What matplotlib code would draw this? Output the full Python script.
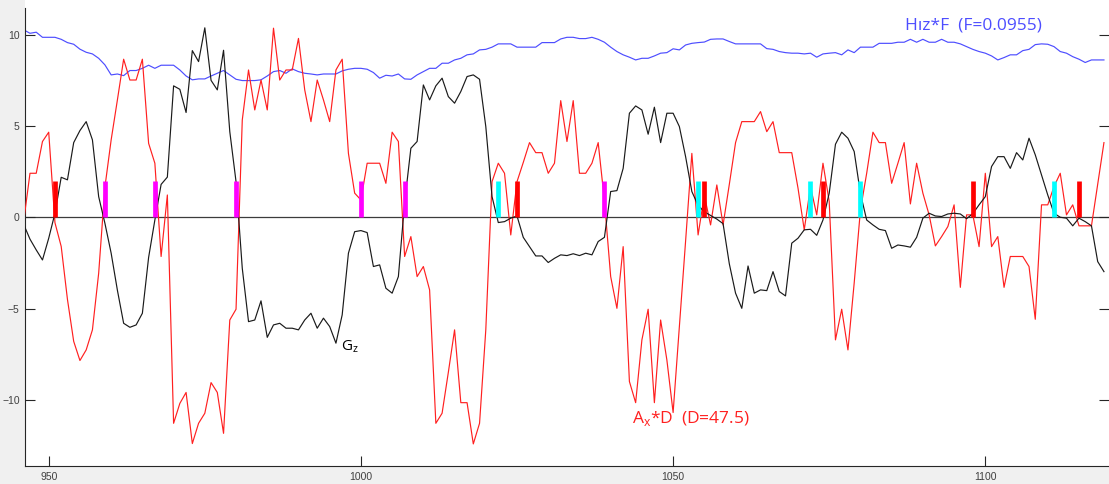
import numpy as np
import matplotlib
matplotlib.use("Agg")
import matplotlib.pyplot as plt

# ---------------- data (one sample per integer x, starting at X_START) ----------------
X_START = 946

ax_d = [
    -0.2, 2.41, 2.41, 4.15, 4.66, -0.3, -1.6, -4.5, -6.8, -7.85,
    -7.27, -6.17, -3.07, 1.65, 4.24, 6.43, 8.66, 7.52, 7.52, 8.66,
    4.05, 2.96, -2.15, 1.22, -11.29, -10.2, -9.6, -12.4, -11.29, -10.74,
    -9.06, -9.6, -11.84, -5.63, -5.04, 5.33, 8.07, 5.88, 7.52, 5.88,
    10.36, 7.52, 8.07, 8.07, 9.8, 6.98, 5.24, 7.52, 6.43, 5.24,
    8.07, 8.66, 3.5, 1.32, 0.95, 2.96, 2.96, 2.96, 1.86, 4.66,
    4.15, -2.15, -1.06, -3.25, -2.7, -3.98, -11.29, -10.74, -8.5, -6.17,
    -10.16, -10.16, -12.42, -11.29, -6.17, 1.95, 2.96, 2.41, -0.97, 1.95,
    3.0, 4.09, 3.54, 3.54, 2.41, 2.96, 6.39, 4.15, 6.39, 2.41,
    2.41, 2.96, 4.09, 0.9, -3.25, -4.99, -1.61, -9.0, -10.16, -6.72,
    -5.04, -10.16, -5.63, -7.82, -10.7, -6.0, -1.3, 3.5, -0.97, 1.2,
    -0.42, 1.77, -0.42, 1.8, 4.09, 5.24, 5.24, 5.24, 5.79, 4.69,
    5.24, 3.54, 3.54, 3.54, 1.6, -0.69, 1.68, 0.13, 2.96, 0.86,
    -6.72, -5.04, -7.27, -3.6, 0.4, 2.41, 4.66, 4.09, 4.09, 1.86,
    2.96, 4.09, 0.73, 2.96, 1.32, 0.13, -1.57, -1.06, -0.51, 0.68,
    -3.84, 0.13, 0.13, -1.61, 2.41, -1.61, -1.06, -3.84, -2.15, -2.15,
    -2.15, -2.7, -5.59, 0.68, 0.68, 1.68, 2.41, 0.13, 0.68, -0.47,
    -0.47, -0.47, 1.8, 4.09,
]

gz = [
    -0.4, -1.2, -1.79, -2.34, -1.15, 0.22, 2.19, 2.05, 4.09, 4.75,
    5.24, 4.24, 1.13, -0.33, -1.97, -4.0, -5.81, -6.03, -5.9, -5.26,
    -2.2, -0.15, 1.8, 2.2, 7.2, 7.01, 5.74, 9.13, 8.53, 10.38,
    7.5, 6.98, 9.15, 4.69, 1.95, -2.8, -5.72, -5.63, -4.58, -6.58,
    -5.9, -5.81, -6.08, -6.08, -6.17, -5.63, -5.26, -6.08, -5.53, -5.99,
    -6.9, -5.35, -1.97, -0.79, -0.73, -0.84, -2.7, -2.61, -3.89, -4.16,
    -3.25, 0.8, 3.78, 4.15, 7.25, 6.43, 7.2, 7.62, 6.61, 6.25,
    6.89, 7.71, 7.8, 7.56, 4.97, 1.13, -0.29, -0.24, -0.05, 0.07,
    -1.1, -1.61, -2.12, -2.12, -2.48, -2.25, -2.06, -2.1, -2.0, -2.1,
    -1.97, -2.06, -1.33, -1.1, 1.41, 1.46, 2.68, 5.7, 6.1, 5.88,
    4.55, 6.03, 4.09, 5.7, 5.7, 4.97, 3.32, 1.41, 0.65, 0.3,
    0.1, -0.1, -0.35, -2.55, -4.16, -4.99, -2.67, -4.16, -3.98, -4.02,
    -2.98, -4.07, -4.31, -1.42, -1.15, -0.69, -0.66, -0.99, -0.15, 1.32,
    4.0, 4.66, 4.33, 3.6, 1.3, -0.15, -0.42, -0.66, -0.73, -1.7,
    -1.52, -1.57, -1.64, -1.1, -0.05, 0.22, 0.07, 0.04, 0.18, 0.22,
    0.18, -0.08, 0.2, 0.68, 1.13, 2.78, 3.32, 3.32, 2.68, 3.54,
    3.14, 4.33, 3.42, 2.32, 1.22, 0.22, 0.0, -0.05, -0.47, -0.05,
    -0.24, -0.47, -2.43, -2.98,
]

hz_f = [
    10.27, 10.08, 10.14, 9.86, 9.86, 9.86, 9.75, 9.57, 9.48, 9.21,
    9.04, 8.95, 8.71, 8.35, 7.8, 7.85, 7.76, 8.04, 8.04, 8.16,
    8.33, 8.16, 8.33, 8.33, 8.33, 8.07, 7.74, 7.53, 7.58, 7.58,
    7.74, 7.89, 8.04, 7.8, 7.56, 7.49, 7.49, 7.49, 7.53, 7.74,
    7.98, 8.04, 7.89, 8.13, 7.98, 7.89, 7.85, 7.8, 7.85, 7.85,
    7.85, 8.02, 8.11, 8.16, 8.16, 8.11, 7.93, 7.62, 7.78, 7.74,
    7.85, 7.58, 7.56, 7.8, 7.98, 8.16, 8.16, 8.44, 8.44, 8.62,
    8.71, 8.9, 8.95, 9.17, 9.2, 9.32, 9.5, 9.5, 9.5, 9.32,
    9.32, 9.32, 9.32, 9.57, 9.57, 9.57, 9.77, 9.86, 9.86, 9.79,
    9.79, 9.86, 9.75, 9.59, 9.32, 9.08, 8.9, 8.77, 8.62, 8.71,
    8.71, 8.84, 8.99, 9.02, 9.23, 9.17, 9.44, 9.53, 9.57, 9.6,
    9.75, 9.77, 9.77, 9.63, 9.5, 9.5, 9.5, 9.5, 9.5, 9.24,
    9.2, 9.08, 9.02, 8.99, 8.99, 8.95, 8.99, 8.77, 8.95, 8.99,
    9.02, 8.9, 9.17, 9.02, 9.32, 9.32, 9.32, 9.53, 9.53, 9.53,
    9.59, 9.59, 9.75, 9.59, 9.75, 9.59, 9.59, 9.75, 9.59, 9.59,
    9.5, 9.35, 9.2, 9.08, 8.99, 8.84, 8.62, 8.75, 8.9, 8.9,
    9.13, 9.2, 9.46, 9.5, 9.48, 9.35, 9.08, 8.99, 8.8, 8.66,
    8.48, 8.62, 8.62, 8.62,
]

# event markers (bars from 0 to MARK_H)
red_marks = [951, 1025, 1055, 1074, 1098, 1115]
magenta_marks = [959, 967, 980, 1000, 1007, 1039]
cyan_marks = [1022, 1054, 1072, 1080, 1111]
MARK_H = 2.0

x_ticks = [950, 1000, 1050, 1100]
y_ticks = [-10, -5, 0, 5, 10]

# ---------------- figure ----------------
W, H = 1109, 484
PX_X = 6.244   # pixels per x unit
PX_Y = 18.25   # pixels per y unit
fig = plt.figure(figsize=(W / 100, H / 100), dpi=100, facecolor="#f0f0f0")
# plot area runs to the top and right edges of the picture (cropped view)
ax = fig.add_axes([25.3 / W, 1 - 466 / H, (W - 25.3) / W, 466 / H])

x = np.arange(X_START, X_START + len(ax_d))

ax.axhline(0, color="#3c3c3c", lw=0.9, zorder=1)
ax.plot(x, hz_f, color="#4d4dff", lw=0.85, zorder=2)
ax.plot(x, ax_d, color="#ff2020", lw=0.85, zorder=3)
ax.plot(x, gz, color="#1a1a1a", lw=0.85, zorder=4)

for marks, col in [(red_marks, "#ff0000"), (magenta_marks, "#ff00ff"), (cyan_marks, "#00ffff")]:
    ax.vlines(marks, 0, MARK_H, colors=col, lw=3.4, zorder=5)

# labels
ax.text(996.8, -7.1, r"G$_\mathregular{z}$", color="black", fontsize=11,
        family="Open Sans", va="center", ha="left")
ax.text(1043.4, -11.05, r"A$_\mathregular{x}$*D  (D=47.5)", color="#ff2020",
        fontsize=12.5, family="Open Sans", va="center", ha="left")
ax.text(1098.1, 10.5, "H\u0131z*F  (F=0.0955)", color="#4d4dff",
        fontsize=12.5, family="Open Sans", va="center", ha="center")

y_top_line = 11.47                     # where the drawn y axis line stops
ax.set_xlim(946.25, 946.25 + (W - 25.3) / PX_X)
ax.set_ylim(-13.63, -13.63 + 466 / PX_Y)
ax.set_xticks(x_ticks)
ax.set_yticks(y_ticks)
ax.tick_params(direction="in", length=7, width=0.8, colors="#262626",
               labelsize=7.5, labelcolor="#404040", right=True, pad=4)
for lab in ax.get_xticklabels() + ax.get_yticklabels():
    lab.set_family("Liberation Sans")
for side in ["top", "right"]:
    ax.spines[side].set_visible(False)
for side in ["left", "bottom"]:
    ax.spines[side].set_color("#262626")
    ax.spines[side].set_linewidth(0.8)
ax.spines["left"].set_bounds(-13.63, y_top_line)

fig.savefig("out.png", dpi=100, facecolor=fig.get_facecolor())
